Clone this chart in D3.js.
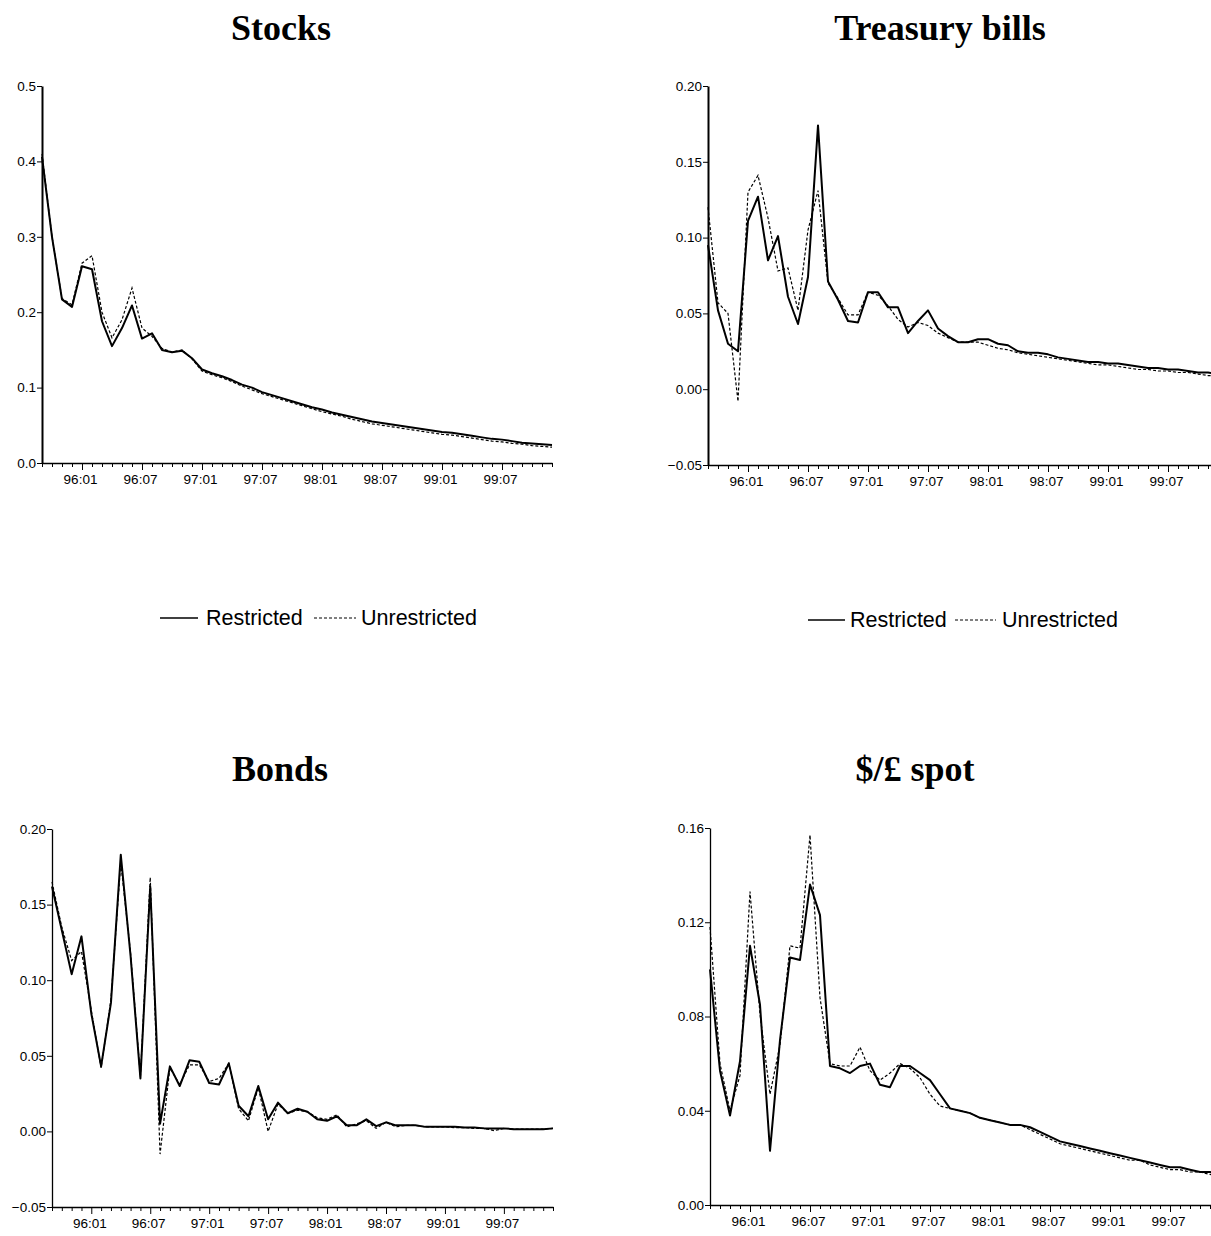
<!DOCTYPE html>
<html><head><meta charset="utf-8">
<script src="https://cdn.jsdelivr.net/npm/d3@7"></script>
<style>body{margin:0;background:#fff}svg{display:block}</style>
</head><body>
<script>
// ---------- data ----------
const startYear = 1995, startMonth = 9;   // first observation 95:09, monthly
const xTickLabels = ["96:01","96:07","97:01","97:07","98:01","98:07","99:01","99:07"];
const seriesNames = ["Restricted","Unrestricted"];

const stocksTicks = [0.0,0.1,0.2,0.3,0.4,0.5];
const stocksRestricted = [0.406,0.300,0.217,0.207,0.261,0.257,0.188,0.155,0.179,0.209,0.165,0.172,0.150,0.147,0.149,0.139,0.124,0.119,0.115,0.110,0.104,0.100,0.094,0.090,0.086,0.082,0.078,0.074,0.071,0.067,0.064,0.061,0.058,0.055,0.053,0.051,0.049,0.047,0.045,0.043,0.041,0.040,0.038,0.036,0.034,0.032,0.031,0.029,0.027,0.026,0.025,0.024];
const stocksUnrestricted = [0.410,0.300,0.218,0.210,0.265,0.275,0.200,0.166,0.190,0.232,0.179,0.168,0.152,0.147,0.150,0.138,0.122,0.117,0.113,0.108,0.102,0.097,0.092,0.088,0.084,0.080,0.076,0.072,0.068,0.065,0.062,0.058,0.055,0.052,0.050,0.048,0.046,0.044,0.042,0.040,0.038,0.037,0.035,0.033,0.031,0.029,0.028,0.026,0.025,0.023,0.022,0.021];

const billsTicks = [-0.05,0.00,0.05,0.10,0.15,0.20];
const billsRestricted = [0.095,0.052,0.030,0.025,0.111,0.127,0.085,0.101,0.061,0.043,0.074,0.174,0.071,0.059,0.045,0.044,0.064,0.064,0.054,0.054,0.037,0.045,0.052,0.040,0.035,0.031,0.031,0.033,0.033,0.030,0.029,0.025,0.024,0.024,0.023,0.021,0.020,0.019,0.018,0.018,0.017,0.017,0.016,0.015,0.014,0.014,0.013,0.013,0.012,0.011,0.011,0.010];
const billsUnrestricted = [0.120,0.057,0.050,-0.008,0.130,0.141,0.113,0.078,0.080,0.052,0.105,0.131,0.070,0.060,0.049,0.049,0.064,0.062,0.055,0.046,0.041,0.044,0.042,0.037,0.034,0.031,0.031,0.031,0.029,0.027,0.026,0.024,0.023,0.022,0.021,0.020,0.019,0.018,0.017,0.016,0.016,0.015,0.014,0.013,0.013,0.012,0.012,0.011,0.011,0.010,0.009,0.009];

const bondsTicks = [-0.05,0.00,0.05,0.10,0.15,0.20];
const bondsRestricted = [0.162,0.133,0.104,0.129,0.078,0.043,0.085,0.183,0.116,0.035,0.162,0.005,0.043,0.030,0.047,0.046,0.032,0.031,0.045,0.017,0.010,0.030,0.008,0.019,0.012,0.015,0.013,0.008,0.007,0.010,0.004,0.004,0.008,0.0035,0.006,0.004,0.004,0.004,0.003,0.003,0.003,0.003,0.0025,0.0025,0.002,0.002,0.002,0.0015,0.0015,0.0015,0.0015,0.002];
const bondsUnrestricted = [0.165,0.135,0.113,0.119,0.080,0.042,0.087,0.178,0.118,0.036,0.168,-0.015,0.042,0.031,0.044,0.044,0.033,0.035,0.045,0.015,0.007,0.029,0.000,0.018,0.012,0.014,0.013,0.009,0.008,0.011,0.003,0.005,0.007,0.002,0.006,0.003,0.004,0.004,0.003,0.003,0.003,0.0025,0.0025,0.002,0.002,0.0005,0.002,0.0015,0.0015,0.0015,0.0015,0.002];

const spotTicks = [0.00,0.04,0.08,0.12,0.16];
const spotRestricted = [0.100,0.057,0.038,0.061,0.110,0.085,0.023,0.070,0.105,0.104,0.136,0.123,0.059,0.058,0.056,0.059,0.060,0.051,0.050,0.059,0.059,0.056,0.053,0.047,0.041,0.040,0.039,0.037,0.036,0.035,0.034,0.034,0.033,0.031,0.029,0.027,0.026,0.025,0.024,0.023,0.022,0.021,0.020,0.019,0.018,0.017,0.016,0.016,0.015,0.014,0.014,0.013];
const spotUnrestricted = [0.118,0.060,0.040,0.055,0.133,0.081,0.047,0.068,0.110,0.109,0.157,0.088,0.060,0.059,0.059,0.067,0.057,0.053,0.056,0.060,0.058,0.054,0.047,0.042,0.041,0.040,0.039,0.037,0.036,0.035,0.034,0.034,0.032,0.030,0.028,0.026,0.025,0.024,0.023,0.022,0.021,0.020,0.019,0.019,0.017,0.016,0.015,0.015,0.014,0.014,0.013,0.012];

// ---------- layout ----------
const W = 1211, H = 1236;
const svg = d3.select("body").append("svg").attr("width", W).attr("height", H)
  .style("font-family", "'Liberation Sans', Arial, Helvetica, sans-serif");

const monthLabel = i => {
  const m = startMonth - 1 + i;
  const yy = (startYear + Math.floor(m / 12)) % 100;
  const mm = (m % 12) + 1;
  return String(yy).padStart(2, "0") + ":" + String(mm).padStart(2, "0");
};

const panels = [
  {title: "Stocks", r: stocksRestricted, u: stocksUnrestricted, ticks: stocksTicks, fmt: ".1f",
   x0: 42, x1: 552, y0: 463, y1: 86, tx: 281, ty: 40, aw: 2},
  {title: "Treasury bills", r: billsRestricted, u: billsUnrestricted, ticks: billsTicks, fmt: ".2f",
   x0: 708, x1: 1218, y0: 465, y1: 86, tx: 940, ty: 40, aw: 2},
  {title: "Bonds", r: bondsRestricted, u: bondsUnrestricted, ticks: bondsTicks, fmt: ".2f",
   x0: 52, x1: 553, y0: 1207, y1: 829, tx: 280, ty: 781, aw: 1.3},
  {title: "$/£ spot", r: spotRestricted, u: spotUnrestricted, ticks: spotTicks, fmt: ".2f",
   x0: 710, x1: 1220, y0: 1205, y1: 828, tx: 915, ty: 781, aw: 1.3}
];

panels.forEach(p => {
  const n = p.r.length;
  const x = d3.scaleLinear().domain([0, n - 1]).range([p.x0, p.x1]);
  const y = d3.scaleLinear().domain([p.ticks[0], p.ticks[p.ticks.length - 1]]).range([p.y0, p.y1]);
  const g = svg.append("g");

  g.append("text").attr("x", p.tx).attr("y", p.ty).attr("text-anchor", "middle")
    .style("font-family", "'Liberation Serif', 'Times New Roman', serif")
    .style("font-weight", "bold").style("font-size", "36px").text(p.title);

  const xa = g.append("g").attr("transform", `translate(0,${p.y0})`)
    .call(d3.axisBottom(x).tickValues(d3.range(n)).tickSize(4).tickSizeOuter(0)
      .tickFormat(i => xTickLabels.includes(monthLabel(i)) ? monthLabel(i) : ""));
  xa.selectAll(".tick").filter(i => xTickLabels.includes(monthLabel(i))).select("line").attr("y2", 7);
  xa.selectAll("text").attr("y", 11).attr("dx", -2).style("font-size", "13.5px").attr("fill", "#000");
  xa.selectAll("line").attr("stroke", "#000");
  xa.select(".domain").attr("stroke", "#000").attr("stroke-width", 1.5);

  const ya = g.append("g").attr("transform", `translate(${p.x0},0)`)
    .call(d3.axisLeft(y).tickValues(p.ticks).tickSize(5).tickSizeOuter(0).tickFormat(d3.format(p.fmt)));
  ya.selectAll("text").attr("x", -6).style("font-size", "13.5px").attr("fill", "#000");
  ya.selectAll("line").attr("stroke", "#000");
  ya.select(".domain").attr("stroke", "#000").attr("stroke-width", p.aw);

  const line = d3.line().x((d, i) => x(i)).y(d => y(d));
  g.append("path").datum(p.u).attr("d", line).attr("fill", "none")
    .attr("stroke", "#000").attr("stroke-width", 1.2).attr("stroke-dasharray", "3,2");
  g.append("path").datum(p.r).attr("d", line).attr("fill", "none")
    .attr("stroke", "#000").attr("stroke-width", 2).attr("stroke-linejoin", "round");
});

// ---------- legends ----------
const legends = [
  {y: 618, s: [160, 198], st: 206, d: [314, 356], ut: 361},
  {y: 620, s: [808, 845], st: 850, d: [955, 996], ut: 1002}
];
legends.forEach(l => {
  const g = svg.append("g");
  g.append("line").attr("x1", l.s[0]).attr("x2", l.s[1]).attr("y1", l.y).attr("y2", l.y)
    .attr("stroke", "#000").attr("stroke-width", 1.3);
  g.append("text").attr("x", l.st).attr("y", l.y + 7).style("font-size", "21.5px").text(seriesNames[0]);
  g.append("line").attr("x1", l.d[0]).attr("x2", l.d[1]).attr("y1", l.y).attr("y2", l.y)
    .attr("stroke", "#000").attr("stroke-width", 1).attr("stroke-dasharray", "3,2");
  g.append("text").attr("x", l.ut).attr("y", l.y + 7).style("font-size", "21.5px").text(seriesNames[1]);
});
</script>
</body></html>
